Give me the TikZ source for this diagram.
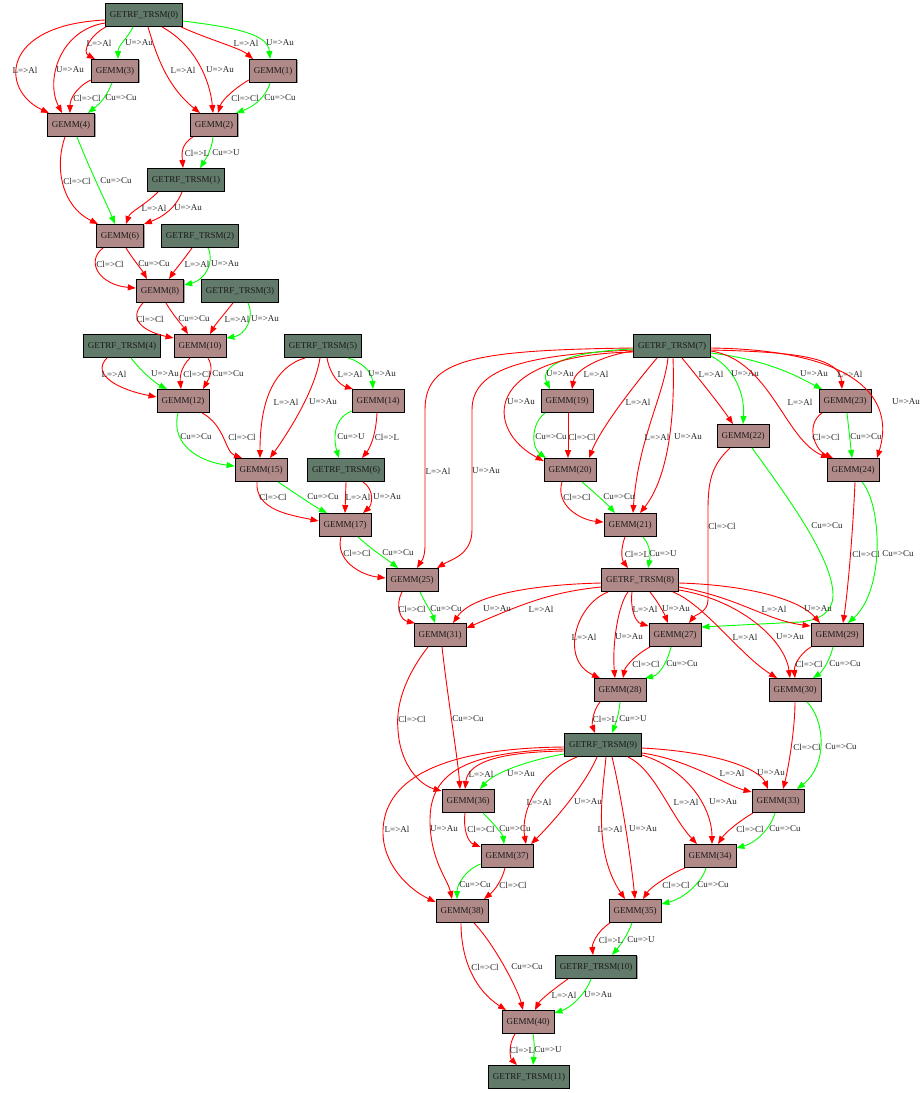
\documentclass[tikz,border=0pt]{standalone}
\usepackage{fontspec}
\setmainfont{Liberation Serif}
\usetikzlibrary{arrows.meta,shadows}
\definecolor{trsmc}{RGB}{98,122,106}
\definecolor{gemmc}{RGB}{176,138,136}
\newcounter{labc}
\newcommand\elab[3]{\stepcounter{labc}\node[lab] (lab\thelabc) at (#1,#2) {#3};}
\tikzset{
  gnode/.style={draw=black, line width=0.9pt, minimum height=23pt, inner xsep=4.5pt, inner ysep=0pt,
    font=\fontsize{9}{9}\selectfont, text=black!90,
    general shadow={fill=black!35, shadow xshift=0.8pt, shadow yshift=-0.8pt}},
  trsm/.style={gnode, fill=trsmc},
  gemm/.style={gnode, fill=gemmc},
  lab/.style={inner sep=0pt, font=\fontsize{9}{9}\selectfont, text=black!85},
  rd/.style={draw=red, line width=0.9pt, -{Triangle[length=8pt,width=6pt]}},
  gr/.style={draw=green, line width=0.9pt, -{Triangle[length=8pt,width=6pt]}}
}
\begin{document}
\begin{tikzpicture}[x=1pt,y=-1pt]
\useasboundingbox[fill=white] (0,0) rectangle (922,1093);
% nodes
\node[trsm] (T0) at (144,15) {GETRF\_TRSM(0)};
\node[gemm] (G3) at (115,71) {GEMM(3)};
\node[gemm] (G1) at (273,71) {GEMM(1)};
\node[gemm] (G4) at (71,125) {GEMM(4)};
\node[gemm] (G2) at (214,125) {GEMM(2)};
\node[trsm] (T1) at (186,180) {GETRF\_TRSM(1)};
\node[gemm] (G6) at (120,236) {GEMM(6)};
\node[trsm] (T2) at (200,236) {GETRF\_TRSM(2)};
\node[gemm] (G8) at (160,291) {GEMM(8)};
\node[trsm] (T3) at (240,291) {GETRF\_TRSM(3)};
\node[gemm] (G10) at (200,346) {GEMM(10)};
\node[trsm] (T4) at (122,346) {GETRF\_TRSM(4)};
\node[trsm] (T5) at (323,346) {GETRF\_TRSM(5)};
\node[gemm] (G12) at (183,401) {GEMM(12)};
\node[gemm] (G14) at (378,401) {GEMM(14)};
\node[gemm] (G15) at (261,470) {GEMM(15)};
\node[trsm] (T6) at (346,470) {GETRF\_TRSM(6)};
\node[gemm] (G17) at (345,525) {GEMM(17)};
\node[gemm] (G25) at (412,580) {GEMM(25)};
\node[gemm] (G31) at (440,635) {GEMM(31)};
\node[trsm] (T7) at (672,346) {GETRF\_TRSM(7)};
\node[gemm] (G19) at (567,401) {GEMM(19)};
\node[gemm] (G22) at (743,436) {GEMM(22)};
\node[gemm] (G23) at (845,401) {GEMM(23)};
\node[gemm] (G24) at (853,470) {GEMM(24)};
\node[gemm] (G20) at (570,470) {GEMM(20)};
\node[gemm] (G21) at (630,525) {GEMM(21)};
\node[gemm] (T8) at (640,580) {GETRF\_TRSM(8)};
\node[gemm] (G27) at (675,635) {GEMM(27)};
\node[gemm] (G29) at (837,635) {GEMM(29)};
\node[gemm] (G28) at (620,690) {GEMM(28)};
\node[gemm] (G30) at (795,690) {GEMM(30)};
\node[trsm] (T9) at (603,745) {GETRF\_TRSM(9)};
\node[gemm] (G36) at (468,801) {GEMM(36)};
\node[gemm] (G33) at (778,801) {GEMM(33)};
\node[gemm] (G37) at (507,856) {GEMM(37)};
\node[gemm] (G34) at (710,856) {GEMM(34)};
\node[gemm] (G38) at (462,911) {GEMM(38)};
\node[gemm] (G35) at (635,911) {GEMM(35)};
\node[trsm] (T10) at (596,967) {GETRF\_TRSM(10)};
\node[gemm] (G40) at (528,1022) {GEMM(40)};
\node[trsm] (T11) at (529,1077) {GETRF\_TRSM(11)};
% T0
\draw[rd] ([yshift=-5pt]T0.west) .. controls (0,25) and (0,90) .. ([xshift=-22pt]G4.north);
\draw[rd] ([yshift=-8pt]T0.west) .. controls (60,30) and (45,80) .. ([xshift=-9pt]G4.north);
\draw[rd] ([xshift=-38pt]T0.south) .. controls (90,35) and (82,52) .. ([xshift=-20pt]G3.north);
\draw[gr] ([xshift=-11pt]T0.south) .. controls (128,38) and (118,45) .. ([xshift=3pt]G3.north);
\draw[rd] ([xshift=37pt]T0.south) .. controls (210,40) and (240,48) .. ([xshift=-20pt]G1.north);
\draw[gr] ([yshift=-6pt]T0.east) .. controls (240,28) and (268,35) .. ([xshift=-3pt]G1.north);
\draw[rd] ([xshift=4pt]T0.south) .. controls (155,50) and (165,85) .. ([xshift=-14pt]G2.north);
\draw[rd] ([xshift=18pt]T0.south) .. controls (195,45) and (210,80) .. ([xshift=-1pt]G2.north);
\elab{25}{70}{L=>Al}\elab{70}{70}{U=>Au}\elab{99}{43}{L=>Al}\elab{139}{43}{U=>Au}
\elab{246}{43}{L=>Al}\elab{280}{43}{U=>Au}\elab{183}{70}{L=>Al}\elab{220}{70}{U=>Au}
% G3->G4, G1->G2
\draw[rd] ([yshift=-9pt]G3.west) .. controls (75,88) and (70,100) .. ([xshift=-1pt]G4.north);
\draw[gr] ([xshift=-3pt]G3.south) .. controls (105,100) and (98,105) .. ([xshift=17pt]G4.north);
\elab{87}{98}{Cl=>Cl}\elab{121}{98}{Cu=>Cu}
\draw[rd] ([yshift=-9pt]G1.west) .. controls (235,88) and (222,100) .. ([xshift=4pt]G2.north);
\draw[gr] ([xshift=-3pt]G1.south) .. controls (265,100) and (250,108) .. ([xshift=22pt]G2.north);
\elab{245}{98}{Cl=>Cl}\elab{280}{98}{Cu=>Cu}
% G4->G6
\draw[rd] ([xshift=-6pt]G4.south) .. controls (55,165) and (60,205) .. ([xshift=-22pt]G6.north);
\draw[gr] ([xshift=6pt]G4.south) .. controls (90,170) and (105,200) .. ([xshift=-5pt]G6.north);
\elab{77}{181}{Cl=>Cl}\elab{116}{181}{Cu=>Cu}
% G2->T1
\draw[rd] ([xshift=-21pt]G2.south) .. controls (180,145) and (182,155) .. ([xshift=-3pt]T1.north);
\draw[gr] ([xshift=-1pt]G2.south) .. controls (212,150) and (205,160) .. ([xshift=14pt]T1.north);
\elab{197}{153}{Cl=>L}\elab{226}{153}{Cu=>U}
% T1->G6
\draw[rd] ([xshift=-28pt]T1.south) .. controls (145,205) and (130,212) .. ([xshift=6pt]G6.north);
\draw[rd] ([xshift=-4pt]T1.south) .. controls (175,210) and (160,218) .. ([xshift=24pt]G6.north);
\elab{154}{208}{L=>Al}\elab{188}{208}{U=>Au}
% G6->G8
\draw[rd] ([xshift=-17pt]G6.south) .. controls (85,262) and (100,285) .. ([yshift=3pt]G8.west);
\draw[rd] ([xshift=6pt]G6.south) .. controls (132,258) and (142,270) .. ([xshift=-13pt]G8.north);
\elab{110}{264}{Cl=>Cl}\elab{154}{264}{Cu=>Cu}
% T2->G8
\draw[rd] ([xshift=-8pt]T2.south) .. controls (185,258) and (175,270) .. ([xshift=9pt]G8.north);
\draw[gr] ([xshift=8pt]T2.south) .. controls (215,262) and (205,280) .. ([yshift=6pt]G8.east);
\elab{197}{264}{L=>Al}\elab{225}{264}{U=>Au}
% G8->G10
\draw[rd] ([xshift=-17pt]G8.south) .. controls (125,322) and (150,333) .. ([yshift=8pt]G10.west);
\draw[rd] ([xshift=6pt]G8.south) .. controls (173,315) and (182,325) .. ([xshift=-12pt]G10.north);
\elab{150}{319}{Cl=>Cl}\elab{194}{319}{Cu=>Cu}
% T3->G10
\draw[rd] ([xshift=-7pt]T3.south) .. controls (225,313) and (215,325) .. ([xshift=10pt]G10.north);
\draw[gr] ([xshift=8pt]T3.south) .. controls (255,318) and (245,335) .. ([yshift=8pt]G10.east);
\elab{237}{319}{L=>Al}\elab{265}{319}{U=>Au}
% T4->G12
\draw[rd] ([xshift=-15pt]T4.south) .. controls (90,375) and (120,390) .. ([yshift=4pt]G12.west);
\draw[gr] ([xshift=9pt]T4.south) .. controls (140,370) and (155,383) .. ([xshift=-16pt]G12.north);
\elab{114}{374}{L=>Al}\elab{165}{374}{U=>Au}
% G10->G12
\draw[rd] ([xshift=-10pt]G10.south) .. controls (180,368) and (180,378) .. ([xshift=-2pt]G12.north);
\draw[rd] ([xshift=8pt]G10.south) .. controls (215,370) and (208,380) .. ([xshift=20pt]G12.north);
\elab{197}{374}{Cl=>Cl}\elab{228}{374}{Cu=>Cu}
% G12->G15
\draw[gr] ([xshift=-5pt]G12.south) .. controls (170,445) and (200,462) .. ([yshift=4pt]G15.west);
\draw[rd] ([xshift=19pt]G12.south) .. controls (225,425) and (225,452) .. ([xshift=-19pt]G15.north);
\elab{196}{437}{Cu=>Cu}\elab{242}{437}{Cl=>Cl}
% T5->G15
\draw[rd] ([xshift=-18pt]T5.south) .. controls (265,370) and (260,420) .. ([xshift=-1pt]G15.north);
\draw[rd] ([xshift=-3pt]T5.south) .. controls (315,390) and (290,430) .. ([xshift=9pt]G15.north);
\elab{286}{402}{L=>Al}\elab{323}{402}{U=>Au}
% T5->G14
\draw[rd] ([xshift=4pt]T5.south) .. controls (330,375) and (340,385) .. ([xshift=-25pt]G14.north);
\draw[gr] ([xshift=25pt]T5.south) .. controls (362,362) and (372,372) .. ([xshift=-5pt]G14.north);
\elab{350}{374}{L=>Al}\elab{382}{374}{U=>Au}
% G14->T6
\draw[gr] ([yshift=-10pt]G14.west) .. controls (330,420) and (335,445) .. ([xshift=-7pt]T6.north);
\draw[rd] ([xshift=-1pt]G14.south) .. controls (376,435) and (370,448) .. ([xshift=16pt]T6.north);
\elab{351}{437}{Cu=>U}\elab{387}{437}{Cl=>L}
% G15->G17
\draw[rd] ([xshift=-4pt]G15.south) .. controls (255,510) and (290,515) .. ([yshift=4pt]G17.west);
\draw[gr] ([xshift=17pt]G15.south) .. controls (295,493) and (312,505) .. ([xshift=-18pt]G17.north);
\elab{273}{497}{Cl=>Cl}\elab{323}{497}{Cu=>Cu}
% T6->G17
\draw[rd] (T6.south) -- (G17.north);
\draw[rd] ([xshift=17pt]T6.south) .. controls (375,490) and (372,505) .. ([xshift=18pt]G17.north);
\elab{358}{497}{L=>Al}\elab{387}{497}{U=>Au}
% G17->G25
\draw[rd] ([xshift=-4pt]G17.south) .. controls (335,560) and (360,575) .. ([yshift=2pt]G25.west);
\draw[gr] ([xshift=13pt]G17.south) .. controls (372,550) and (388,560) .. ([xshift=-14pt]G25.north);
\elab{357}{553}{Cl=>Cl}\elab{398}{553}{Cu=>Cu}
% T7->G25
\draw[rd] ([yshift=-2pt]T7.west) .. controls (470,350) and (425,360) .. (425,410) -- (425,545) .. controls (425,560) and (420,563) .. ([xshift=5pt]G25.north);
\draw[rd] ([yshift=-4pt]T7.west) .. controls (520,355) and (472,370) .. (472,410) -- (472,530) .. controls (472,555) and (450,560) .. ([xshift=25pt]G25.north);
\elab{438}{471}{L=>Al}\elab{486}{471}{U=>Au}
% G25->G31
\draw[rd] ([xshift=-10pt]G25.south) .. controls (395,605) and (400,620) .. ([xshift=-25pt]G31.north);
\draw[gr] ([xshift=8pt]G25.south) .. controls (425,603) and (432,613) .. ([xshift=-5pt]G31.north);
\elab{412}{609}{Cl=>Cl}\elab{446}{609}{Cu=>Cu}
% T8->G31
\draw[rd] ([yshift=-3pt]T8.west) .. controls (520,585) and (470,598) .. ([xshift=13pt]G31.north);
\draw[rd] ([yshift=-7pt]T8.west) .. controls (550,592) and (520,605) .. ([yshift=7pt]G31.east);
\elab{497}{609}{U=>Au}\elab{541}{609}{L=>Al}
% T7->G19
\draw[gr] ([yshift=-3pt]T7.west) .. controls (560,352) and (540,368) .. ([xshift=-17pt]G19.north);
\draw[rd] ([yshift=-5pt]T7.west) .. controls (600,356) and (575,370) .. ([xshift=5pt]G19.north);
\elab{560}{374}{U=>Au}\elab{596}{374}{L=>Al}
% T7->G20
\draw[rd] ([yshift=-6pt]T7.west) .. controls (480,355) and (485,430) .. ([yshift=9pt]G20.west);
\draw[rd] ([xshift=-15pt]T7.south) .. controls (630,390) and (600,430) .. ([xshift=19pt]G20.north);
\elab{521}{402}{U=>Au}\elab{638}{402}{L=>Al}
% T7->G21
\draw[rd] ([xshift=-4pt]T7.south) .. controls (664,395) and (638,440) .. ([xshift=3pt]G21.north);
\draw[rd] ([xshift=1pt]T7.south) .. controls (675,410) and (670,475) .. ([xshift=10pt]G21.north);
\elab{657}{437}{L=>Al}\elab{688}{437}{U=>Au}
% G19->G20
\draw[gr] ([xshift=-22pt]G19.south) .. controls (530,425) and (532,448) .. ([xshift=-24pt]G20.north);
\draw[rd] ([xshift=1pt]G19.south) -- ([xshift=-2pt]G20.north);
\elab{551}{437}{Cu=>Cu}\elab{582}{437}{Cl=>Cl}
% G20->G21
\draw[rd] ([xshift=-8pt]G20.south) .. controls (555,505) and (580,520) .. ([yshift=3pt]G21.west);
\draw[gr] ([xshift=12pt]G20.south) .. controls (595,493) and (608,505) .. ([xshift=-15pt]G21.north);
\elab{577}{497}{Cl=>Cl}\elab{619}{497}{Cu=>Cu}
% T7->G22
\draw[rd] ([xshift=10pt]T7.south) .. controls (700,380) and (720,405) .. ([xshift=-10pt]G22.north);
\draw[gr] ([yshift=-10pt]T7.east) .. controls (735,368) and (745,395) .. (G22.north);
\elab{711}{374}{L=>Al}\elab{745}{374}{U=>Au}
% T7->G23
\draw[gr] ([yshift=-7pt]T7.east) .. controls (770,360) and (800,378) .. ([xshift=-23pt]G23.north);
\draw[rd] ([yshift=-4pt]T7.east) .. controls (800,352) and (840,358) .. ([xshift=-3pt]G23.north);
\elab{814}{374}{U=>Au}\elab{850}{374}{L=>Al}
% T7->G24
\draw[rd] ([yshift=-5pt]T7.east) .. controls (770,360) and (785,440) .. ([xshift=-24pt]G24.north);
\draw[rd] ([yshift=-2pt]T7.east) .. controls (860,350) and (895,400) .. ([xshift=24pt]G24.north);
\elab{800}{402}{L=>Al}\elab{906}{402}{U=>Au}
% G23->G24
\draw[rd] ([xshift=-23pt]G23.south) .. controls (805,425) and (815,450) .. ([xshift=-20pt]G24.north);
\draw[gr] ([xshift=2pt]G23.south) -- ([xshift=-1pt]G24.north);
\elab{826}{437}{Cl=>Cl}\elab{866}{437}{Cu=>Cu}
% G21->T8
\draw[rd] ([xshift=-5pt]G21.south) .. controls (620,550) and (622,560) .. ([xshift=-12pt]T8.north);
\draw[gr] ([xshift=13pt]G21.south) .. controls (652,548) and (650,558) .. ([xshift=8pt]T8.north);
\elab{637}{554}{Cl=>L}\elab{663}{554}{Cu=>U}
% G22->G27
\draw[rd] ([xshift=-13pt]G22.south) .. controls (712,465) and (708,480) .. (708,510) -- (708,600) .. controls (708,612) and (695,615) .. ([xshift=14pt]G27.north);
\draw[gr] ([xshift=9pt]G22.south) .. controls (790,500) and (833,560) .. (833,595) .. controls (833,612) and (820,620) .. (800,622) -- ([yshift=8pt]G27.east);
\elab{722}{526}{Cl=>Cl}\elab{827}{526}{Cu=>Cu}
% G24->G29
\draw[rd] ([xshift=2pt]G24.south) .. controls (853,530) and (848,590) .. ([xshift=6pt]G29.north);
\draw[gr] ([xshift=9pt]G24.south) .. controls (882,505) and (885,590) .. ([xshift=11pt]G29.north);
\elab{866}{554}{Cl=>Cl}\elab{898}{554}{Cu=>Cu}
% T8->G27
\draw[rd] ([xshift=-8pt]T8.south) .. controls (630,608) and (635,622) .. ([yshift=9pt]G27.west);
\draw[rd] ([xshift=10pt]T8.south) .. controls (658,602) and (664,613) .. ([xshift=-7pt]G27.north);
\elab{645}{609}{L=>Al}\elab{676}{609}{U=>Au}
% T8->G28
\draw[rd] ([xshift=-32pt]T8.south) .. controls (575,605) and (560,660) .. ([xshift=-20pt]G28.north);
\draw[rd] ([xshift=-12pt]T8.south) .. controls (618,605) and (612,645) .. ([xshift=-5pt]G28.north);
\elab{584}{637}{L=>Al}\elab{629}{637}{U=>Au}
% T8->G29
\draw[rd] ([yshift=-7pt]T8.east) .. controls (740,598) and (765,620) .. ([yshift=9pt]G29.west);
\draw[rd] ([yshift=-3pt]T8.east) .. controls (750,585) and (800,600) .. ([xshift=-17pt]G29.north);
\elab{774}{609}{L=>Al}\elab{818}{609}{U=>Au}
% T8->G30
\draw[rd] ([xshift=33pt]T8.south) .. controls (705,605) and (740,655) .. ([xshift=-18pt]G30.north);
\draw[rd] ([yshift=-10pt]T8.east) .. controls (740,600) and (785,640) .. ([xshift=-5pt]G30.north);
\elab{745}{637}{L=>Al}\elab{790}{637}{U=>Au}
% G27->G28
\draw[rd] ([xshift=-25pt]G27.south) .. controls (635,655) and (625,667) .. ([xshift=3pt]G28.north);
\draw[gr] ([xshift=-4pt]G27.south) .. controls (668,660) and (660,675) .. ([xshift=25pt]G28.north);
\elab{646}{664}{Cl=>Cl}\elab{682}{664}{Cu=>Cu}
% G29->G30
\draw[rd] ([xshift=-26pt]G29.south) .. controls (798,655) and (794,667) .. (G30.north);
\draw[gr] ([xshift=-4pt]G29.south) .. controls (830,660) and (822,672) .. ([xshift=18pt]G30.north);
\elab{809}{664}{Cl=>Cl}\elab{845}{664}{Cu=>Cu}
% G28->T9
\draw[rd] ([xshift=-20pt]G28.south) .. controls (592,712) and (592,725) .. ([xshift=-8pt]T9.north);
\draw[gr] (G28.south) .. controls (619,715) and (615,725) .. ([xshift=9pt]T9.north);
\elab{605}{719}{Cl=>L}\elab{633}{719}{Cu=>U}
% G31->G36
\draw[rd] ([xshift=-12pt]G31.south) .. controls (410,670) and (395,700) .. (398,730) .. controls (400,765) and (420,785) .. ([yshift=10pt]G36.west);
\draw[rd] ([xshift=2pt]G31.south) .. controls (448,700) and (458,760) .. ([xshift=-8pt]G36.north);
\elab{412}{719}{Cl=>Cl}\elab{468}{719}{Cu=>Cu}
% G30->G33
\draw[rd] (G30.south) .. controls (795,730) and (788,770) .. ([xshift=5pt]G33.north);
\draw[gr] ([xshift=12pt]G30.south) .. controls (825,720) and (828,765) .. ([xshift=19pt]G33.north);
\elab{807}{747}{Cl=>Cl}\elab{841}{747}{Cu=>Cu}
% T9->G36
\draw[rd] ([yshift=-6pt]T9.west) .. controls (500,752) and (468,762) .. ([xshift=-3pt]G36.north);
\draw[gr] ([yshift=-9pt]T9.west) .. controls (530,760) and (495,772) .. ([xshift=12pt]G36.north);
\elab{481}{774}{L=>Al}\elab{521}{774}{U=>Au}
% T9->G38
\draw[rd] ([yshift=-2pt]T9.west) .. controls (450,748) and (385,775) .. (383,830) .. controls (382,865) and (410,890) .. ([yshift=9pt]G38.west);
\draw[rd] ([yshift=-4pt]T9.west) .. controls (470,752) and (430,770) .. (430,820) .. controls (430,860) and (448,880) .. ([xshift=-10pt]G38.north);
\elab{397}{829}{L=>Al}\elab{444}{829}{U=>Au}
% T9->G37
\draw[rd] ([xshift=-26pt]T9.south) .. controls (540,772) and (520,810) .. ([xshift=19pt]G37.north);
\draw[rd] ([xshift=-6pt]T9.south) .. controls (585,785) and (555,820) .. ([xshift=24pt]G37.north);
\elab{539}{802}{L=>Al}\elab{588}{802}{U=>Au}
% T9->G35
\draw[rd] ([xshift=3pt]T9.south) .. controls (603,790) and (592,850) .. ([xshift=-10pt]G35.north);
\draw[rd] ([xshift=9pt]T9.south) .. controls (620,790) and (630,850) .. (G35.north);
\elab{610}{829}{L=>Al}\elab{643}{829}{U=>Au}
% T9->G34
\draw[rd] ([xshift=25pt]T9.south) .. controls (655,770) and (670,815) .. ([xshift=-13pt]G34.north);
\draw[rd] ([yshift=-10pt]T9.east) .. controls (690,770) and (712,810) .. ([xshift=2pt]G34.north);
\elab{686}{802}{L=>Al}\elab{723}{802}{U=>Au}
% T9->G33
\draw[rd] ([yshift=-8pt]T9.east) .. controls (690,760) and (725,785) .. ([yshift=9pt]G33.west);
\draw[rd] ([yshift=-3pt]T9.east) .. controls (720,752) and (760,770) .. ([xshift=-10pt]G33.north);
\elab{732}{773}{L=>Al}\elab{771}{773}{U=>Au}
% G36->G37
\draw[rd] ([xshift=-3pt]G36.south) .. controls (463,830) and (468,842) .. ([yshift=9pt]G37.west);
\draw[gr] ([xshift=15pt]G36.south) .. controls (495,825) and (503,835) .. ([xshift=-3pt]G37.north);
\elab{481}{829}{Cl=>Cl}\elab{515}{829}{Cu=>Cu}
% G33->G34
\draw[rd] ([xshift=-25pt]G33.south) .. controls (738,822) and (725,833) .. ([xshift=8pt]G34.north);
\draw[gr] ([xshift=-3pt]G33.south) .. controls (770,830) and (755,843) .. ([yshift=8pt]G34.east);
\elab{750}{829}{Cl=>Cl}\elab{785}{829}{Cu=>Cu}
% G37->G38
\draw[gr] ([yshift=-8pt]G37.west) .. controls (465,870) and (457,885) .. ([xshift=-5pt]G38.north);
\draw[rd] ([xshift=-2pt]G37.south) .. controls (502,880) and (495,890) .. ([xshift=22pt]G38.north);
\elab{475}{885}{Cu=>Cu}\elab{513}{885}{Cl=>Cl}
% G34->G35
\draw[rd] ([xshift=-25pt]G34.south) .. controls (668,875) and (650,888) .. ([xshift=8pt]G35.north);
\draw[gr] ([xshift=-4pt]G34.south) .. controls (702,882) and (685,898) .. ([yshift=7pt]G35.east);
\elab{676}{885}{Cl=>Cl}\elab{713}{885}{Cu=>Cu}
% G38->G40
\draw[rd] ([xshift=-1pt]G38.south) .. controls (461,960) and (475,990) .. ([xshift=-22pt]G40.north);
\draw[rd] ([xshift=12pt]G38.south) .. controls (495,945) and (518,990) .. ([xshift=-5pt]G40.north);
\elab{485}{967}{Cl=>Cl}\elab{527}{967}{Cu=>Cu}
% G35->T10
\draw[rd] ([xshift=-25pt]G35.south) .. controls (596,932) and (592,945) .. ([xshift=-3pt]T10.north);
\draw[gr] ([xshift=-3pt]G35.south) .. controls (628,935) and (618,948) .. ([xshift=16pt]T10.north);
\elab{611}{940}{Cl=>L}\elab{641}{940}{Cu=>U}
% T10->G40
\draw[rd] ([xshift=-28pt]T10.south) .. controls (555,988) and (540,1000) .. ([xshift=7pt]G40.north);
\draw[gr] ([xshift=-5pt]T10.south) .. controls (585,995) and (570,1008) .. ([yshift=9pt]G40.east);
\elab{564}{995}{L=>Al}\elab{598}{995}{U=>Au}
% G40->T11
\draw[rd] ([xshift=-13pt]G40.south) .. controls (508,1045) and (510,1058) .. ([xshift=-12pt]T11.north);
\draw[gr] ([xshift=5pt]G40.south) .. controls (535,1045) and (534,1055) .. ([xshift=4pt]T11.north);
\elab{522}{1050}{Cl=>L}\elab{548}{1050}{Cu=>U}
\end{tikzpicture}
\end{document}
